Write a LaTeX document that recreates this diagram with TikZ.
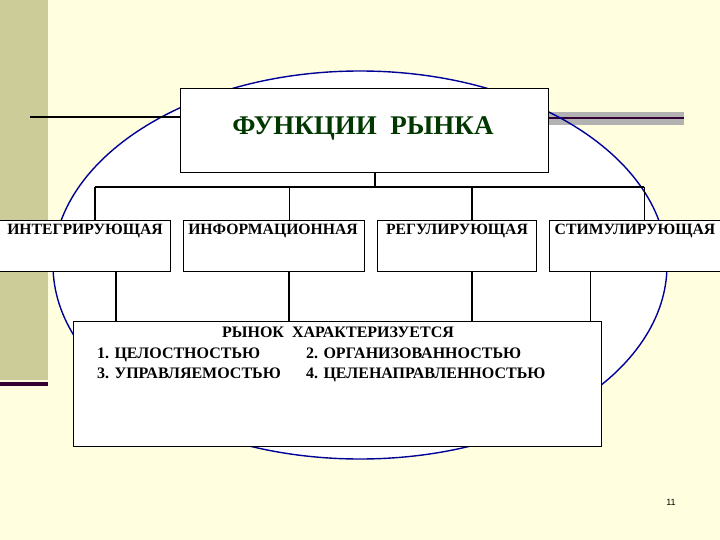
\documentclass[tikz,border=0pt]{standalone}
\usepackage{fontspec}
\setmainfont{Liberation Serif}
\newfontfamily\pgnum{Liberation Sans}
\definecolor{bgyel}{RGB}{255,255,224}
\definecolor{olive}{RGB}{204,204,153}
\definecolor{darkpurp}{RGB}{51,0,51}
\definecolor{ellblue}{RGB}{0,0,153}
\definecolor{titlegreen}{RGB}{0,56,0}
\definecolor{bandgray}{RGB}{178,178,178}
\begin{document}
\begin{tikzpicture}[x=1pt,y=-1pt,
  box/.style={draw=black, line width=0.8pt, fill=white, rectangle, inner sep=0pt, anchor=north west},
  conn/.style={draw=black, line width=1.6pt},
  rowtext/.style={font=\bfseries\fontsize{15.7}{18}\selectfont, inner sep=0pt, anchor=base},
  bottext/.style={font=\bfseries\fontsize{16}{18}\selectfont, inner sep=0pt, anchor=base west}]
\useasboundingbox (0,0) rectangle (720,540);
\clip (0,0) rectangle (720,540);
% background
\fill[bgyel] (0,0) rectangle (720,540);
\fill[olive] (0,0) rectangle (48,380);
\fill[darkpurp] (0,382) rectangle (48,386);
% ellipse fill
\fill[white] (360,265) ellipse [x radius=307, y radius=194];
% right band
\fill[bandgray] (548,112) rectangle (684,125);
\draw[line width=1.6pt, darkpurp] (548,118) -- (684,118);
% ellipse outline
\draw[ellblue, line width=1.4pt] (360,265) ellipse [x radius=307, y radius=194];
% left line
\coordinate (lstart) at (30,117);
% top box
\node[box, minimum width=368pt, minimum height=84pt] (top) at (180,88) {};
\draw[line width=1.6pt, black] (lstart) -- (lstart -| top.west);
\node[font=\bfseries\fontsize{27}{30}\selectfont, text=titlegreen, inner sep=0pt, anchor=base] (title) at (363,135) {ФУНКЦИИ \ РЫНКА};
% row boxes
\node[box, minimum width=171pt, minimum height=51pt] (b1) at (-1,220) {};
\node[box, minimum width=181pt, minimum height=51pt] (b2) at (183,220) {};
\node[box, minimum width=159pt, minimum height=51pt] (b3) at (377,220) {};
\node[box, minimum width=180pt, minimum height=51pt] (b4) at (549,220) {};
\node[rowtext] (t1) at (85,235) {ИНТЕГРИРУЮЩАЯ};
\node[rowtext] (t2) at (273,235) {ИНФОРМАЦИОННАЯ};
\node[rowtext] (t3) at (457,235) {РЕГУЛИРУЮЩАЯ};
\node[rowtext] (t4) at (635,235) {СТИМУЛИРУЮЩАЯ};
% bus
\coordinate (bus) at (375,187);
\coordinate (j1) at (95,187);
\coordinate (j2) at (289,187);
\coordinate (j3) at (472,187);
\coordinate (j4) at (644,187);
\draw[conn] (top.south -| bus) -- (bus);
\draw[conn] (j1) -- (j4);
\draw[conn] (j1) -- (j1 |- b1.north);
\draw[conn, line width=1pt] (j2) -- (j2 |- b2.north);
\draw[conn] (j3) -- (j3 |- b3.north);
\draw[conn, line width=1pt] (j4) -- (j4 |- b4.north);
% bottom box
\node[box, minimum width=528pt, minimum height=125pt] (bot) at (73,321) {};
\coordinate (k1) at (116,271);
\coordinate (k2) at (289,271);
\coordinate (k3) at (472,271);
\coordinate (k4) at (590,271);
\draw[conn] (k1) -- (k1 |- bot.north);
\draw[conn, line width=1.2pt] (k2) -- (k2 |- bot.north);
\draw[conn] (k3) -- (k3 |- bot.north);
\draw[conn, line width=1pt] (k4) -- (k4 |- bot.north);
\node[font=\bfseries\fontsize{16}{18}\selectfont, inner sep=0pt, anchor=base] (bt0) at (338,337.5) {РЫНОК \ ХАРАКТЕРИЗУЕТСЯ};
\node[bottext] (bt1) at (97,358) {1. ЦЕЛОСТНОСТЬЮ};
\node[bottext] (bt2) at (306,358) {2. ОРГАНИЗОВАННОСТЬЮ};
\node[bottext] (bt3) at (97,378) {3. УПРАВЛЯЕМОСТЬЮ};
\node[bottext] (bt4) at (306,378) {4. ЦЕЛЕНАПРАВЛЕННОСТЬЮ};
% page number
\node[font=\pgnum\fontsize{9}{10}\selectfont, inner sep=0pt] (pg) at (671,502) {11};
\end{tikzpicture}
\end{document}
